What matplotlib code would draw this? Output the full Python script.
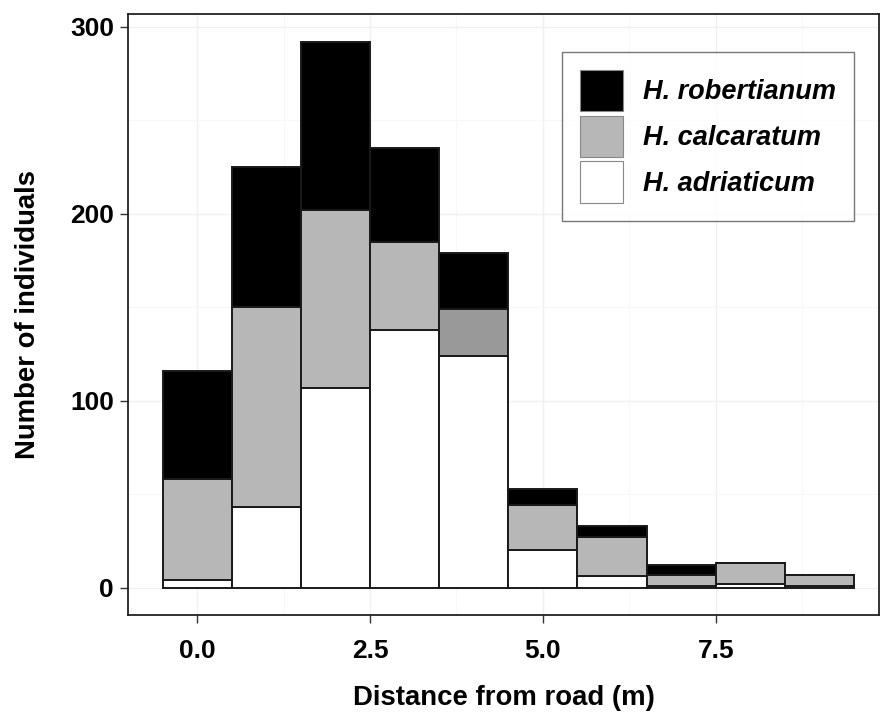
import matplotlib
matplotlib.use("Agg")
import matplotlib.pyplot as plt
from matplotlib.patches import Patch
import numpy as np

# ---- data ----
distance = [0, 1, 2, 3, 4, 5, 6, 7, 8, 9]
species = ["H. robertianum", "H. calcaratum", "H. adriaticum"]
adriaticum = [4, 43, 107, 138, 124, 20, 6, 1, 2, 1]
calcaratum = [54, 107, 95, 47, 25, 24, 21, 6, 11, 6]
robertianum = [58, 75, 90, 50, 30, 9, 6, 5, 0, 0]
x_ticks = [0.0, 2.5, 5.0, 7.5]
x_ticklabels = ["0.0", "2.5", "5.0", "7.5"]
y_ticks = [0, 100, 200, 300]

# ---- style ----
plt.rcParams['font.family'] = ['Liberation Sans', 'DejaVu Sans']
col_rob = "#000000"
col_calc = "#b7b7b7"
col_adr = "#ffffff"
edge = "#1a1a1a"

fig = plt.figure(figsize=(8.8, 7.13), dpi=100)
ax = fig.add_axes([128/880, 98/713, (879-128)/880, (615-14)/713])

x = np.array(distance, dtype=float)
adr = np.array(adriaticum)
calc = np.array(calcaratum)
rob = np.array(robertianum)

calc_colors = [col_calc] * len(x)
calc_colors[4] = "#999999"

ax.bar(x, adr, width=1.0, color=col_adr, edgecolor=edge, linewidth=1.4, zorder=3)
ax.bar(x, calc, width=1.0, bottom=adr, color=calc_colors, edgecolor=edge, linewidth=1.4, zorder=3)
ax.bar(x, rob, width=1.0, bottom=adr + calc, color=col_rob, edgecolor=edge, linewidth=1.4, zorder=3)

ax.set_xticks(x_ticks)
ax.set_xticklabels(x_ticklabels)
ax.set_yticks(y_ticks)
ax.set_xticks([1.25, 3.75, 6.25, 8.75], minor=True)
ax.set_yticks([50, 150, 250], minor=True)

ax.set_xlim(-1.0, 9.86)
ax.set_ylim(-14.6, 306.8)

ax.grid(which='major', color='#f0f0f0', linewidth=1.0, zorder=0)
ax.grid(which='minor', color='#f7f7f7', linewidth=0.8, zorder=0)
ax.set_axisbelow(True)

ax.tick_params(axis='both', which='major', labelsize=19, length=6, width=1.0,
               color='#333333')
ax.tick_params(axis='x', which='major', pad=11)
ax.tick_params(axis='y', which='major', pad=4)
ax.tick_params(axis='both', which='minor', length=0)
for lab in ax.get_xticklabels() + ax.get_yticklabels():
    lab.set_fontweight('bold')

for s in ax.spines.values():
    s.set_color('#222222')
    s.set_linewidth(1.3)

ax.set_xlabel("Distance from road (m)", fontsize=19.8, fontweight='bold', labelpad=16)
ax.set_ylabel("Number of individuals", fontsize=19.8, fontweight='bold', labelpad=21)

handles = [Patch(facecolor=col_rob, edgecolor='#888888', linewidth=0.8),
           Patch(facecolor=col_calc, edgecolor='#888888', linewidth=0.8),
           Patch(facecolor=col_adr, edgecolor='#888888', linewidth=0.8)]
leg = ax.legend(handles, species, loc='upper right',
                bbox_to_anchor=((854-128)/(879-128), (615-52)/(615-14)),
                borderaxespad=0, frameon=True, fancybox=False,
                handlelength=1.6, handleheight=2.0, labelspacing=0.15,
                handletextpad=0.75, borderpad=0.65,
                prop={'style': 'italic', 'weight': 'bold', 'size': 19.5})
leg.get_frame().set_edgecolor('#555555')
leg.get_frame().set_linewidth(1.0)

fig.savefig("out.png", dpi=100)
